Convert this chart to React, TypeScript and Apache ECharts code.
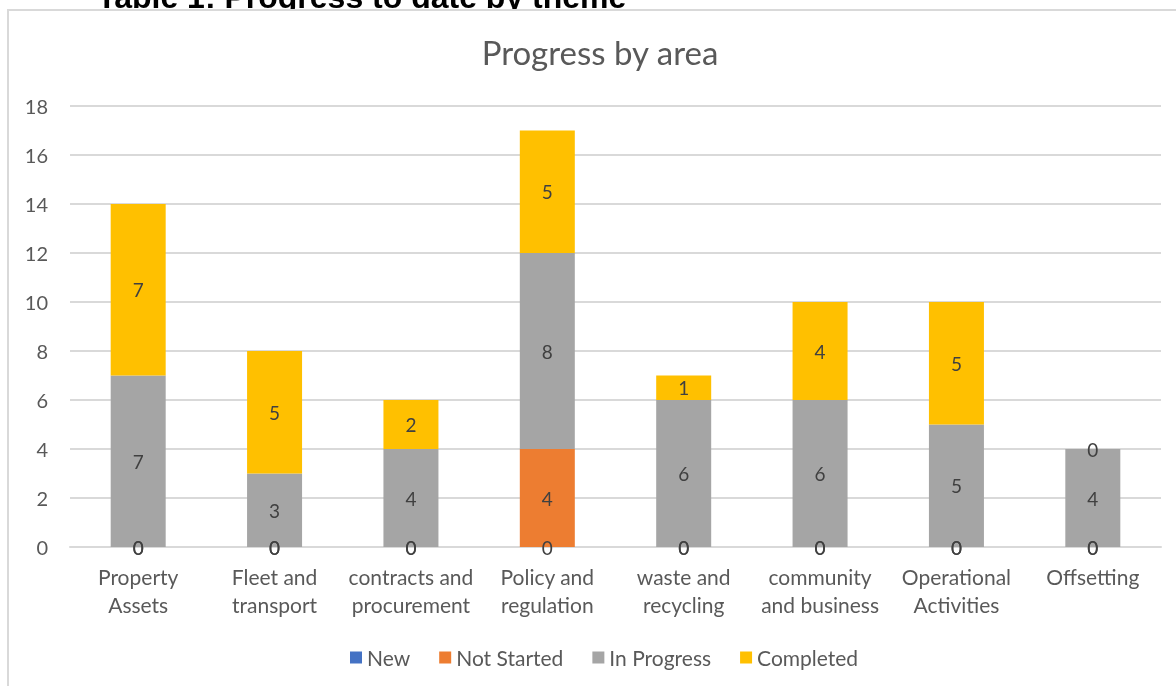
import React, { useEffect, useRef } from "react";
import * as echarts from "echarts";

const categories = [
  "Property\nAssets",
  "Fleet and\ntransport",
  "contracts and\nprocurement",
  "Policy and\nregulation",
  "waste and\nrecycling",
  "community\nand business",
  "Operational\nActivities",
  "Offsetting",
];
const newValues = [0, 0, 0, 0, 0, 0, 0, 0];
const notStarted = [0, 0, 0, 4, 0, 0, 0, 0];
const inProgress = [7, 3, 4, 8, 6, 6, 5, 4];
const completed = [7, 5, 2, 5, 1, 4, 5, 0];

const FONT = "Lato, 'Noto Sans', sans-serif";

export default function App() {
  const ref = useRef<HTMLDivElement>(null);
  useEffect(() => {
    if (!ref.current) return;
    const chart = echarts.init(ref.current, undefined, { renderer: "svg" });
    const label = {
      show: true,
      position: "inside" as const,
      color: "#404040",
      fontSize: 19,
      fontFamily: FONT,
    };
    const mk = (name: string, data: number[], color: string) => ({
      name,
      type: "bar" as const,
      stack: "total",
      data,
      barWidth: 55,
      itemStyle: { color },
      label,
    });
    chart.setOption({
      animation: false,
      textStyle: { fontFamily: FONT },
      graphic: [
        {
          type: "text",
          z: -2,
          x: 97,
          y: 13,
          style: {
            text: "Table 1: Progress to date by theme",
            font: "bold 32px 'Liberation Sans', Arial, sans-serif",
            fill: "#000000",
            verticalAlign: "bottom",
          },
        },
        {
          type: "rect",
          z: -1,
          shape: { x: 8, y: 10, width: 1200, height: 700 },
          style: { fill: "#ffffff", stroke: "#d9d9d9", lineWidth: 2 },
        },
        {
          type: "text",
          z: 1,
          x: 600,
          y: 52,
          style: {
            text: "Progress by area",
            font: "33px Lato, 'Noto Sans', sans-serif",
            fill: "#595959",
            align: "center",
            verticalAlign: "middle",
          },
        },
      ],
      legend: {
        left: 345,
        top: 642,
        icon: "rect",
        itemWidth: 12,
        itemHeight: 12,
        itemGap: 29,
        textStyle: { color: "#595959", fontSize: 21, fontFamily: FONT },
        data: ["New", "Not Started", "In Progress", "Completed"],
      },
      grid: { left: 70, right: 15, top: 106, bottom: 139 },
      xAxis: {
        type: "category",
        data: categories,
        axisLine: { lineStyle: { color: "#d9d9d9", width: 2 } },
        axisTick: { show: false },
        axisLabel: {
          color: "#595959",
          fontSize: 21,
          lineHeight: 28,
          margin: 15,
          fontFamily: FONT,
          interval: 0,
        },
      },
      yAxis: {
        type: "value",
        min: 0,
        max: 18,
        interval: 2,
        axisLine: { show: false },
        axisTick: { show: false },
        splitLine: { lineStyle: { color: "#d9d9d9", width: 2 } },
        axisLabel: {
          color: "#595959",
          fontSize: 20,
          margin: 22,
          fontFamily: FONT,
        },
      },
      series: [
        mk("New", newValues, "#4472C4"),
        mk("Not Started", notStarted, "#ED7D31"),
        mk("In Progress", inProgress, "#A5A5A5"),
        mk("Completed", completed, "#FFC000"),
      ],
    });
    return () => chart.dispose();
  }, []);
  return (
    <div
      ref={ref}
      style={{ position: "fixed", left: 0, top: 0, width: 1176, height: 686 }}
    />
  );
}
